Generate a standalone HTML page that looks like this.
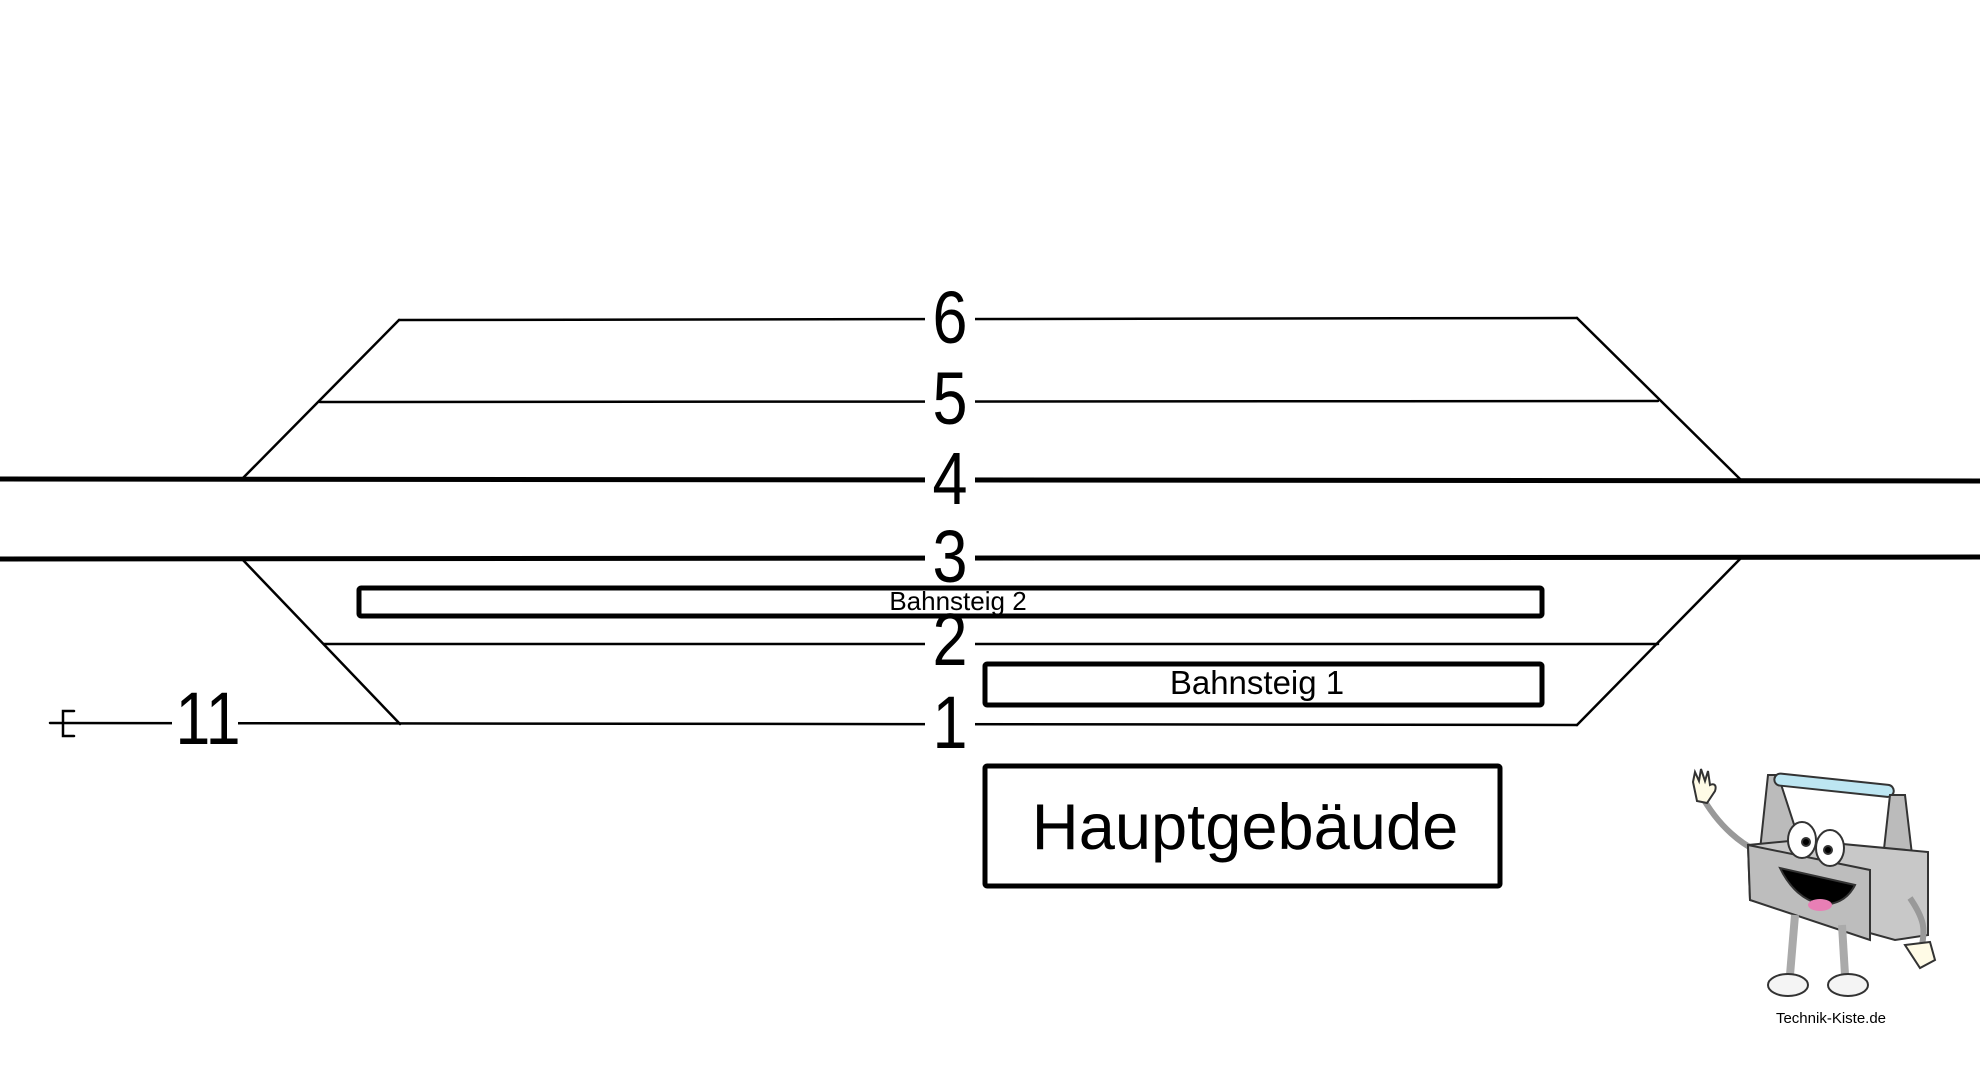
<!DOCTYPE html>
<html><head><meta charset="utf-8"><style>
html,body{margin:0;padding:0;background:#fff;}
svg{display:block;}
text{font-family:"Liberation Sans",sans-serif;}
</style></head><body>
<svg width="1980" height="1080" viewBox="0 0 1980 1080" xmlns="http://www.w3.org/2000/svg">
<rect width="1980" height="1080" fill="#fff"/>
<g stroke="#000" fill="none" stroke-linecap="round">
  <line x1="399" y1="320" x2="1577" y2="318" stroke-width="2.5"/>
  <line x1="320" y1="402" x2="1658" y2="401" stroke-width="2.5"/>
  <line x1="0" y1="479" x2="1980" y2="481" stroke-width="5"/>
  <line x1="0" y1="559" x2="1980" y2="557" stroke-width="5"/>
  <line x1="242" y1="479" x2="399" y2="320" stroke-width="2.5"/>
  <line x1="1577" y1="318" x2="1741" y2="480" stroke-width="2.5"/>
  <line x1="242" y1="559" x2="400" y2="724" stroke-width="2.5"/>
  <line x1="1741" y1="558" x2="1577" y2="725" stroke-width="2.5"/>
  <line x1="324" y1="644" x2="1658" y2="644" stroke-width="2.5"/>
  <line x1="50" y1="723" x2="1577" y2="725" stroke-width="2.5"/>
  <polyline points="74,711 63,711 63,736 74,736" stroke-width="2.5"/>
  <rect x="359" y="588" width="1183" height="28" stroke-width="5" rx="2"/>
  <rect x="985" y="664" width="557" height="41" stroke-width="5" rx="2"/>
  <rect x="985" y="766" width="515" height="120" stroke-width="5" rx="2"/>
</g>
<g fill="#fff">
  <rect x="925" y="285" width="50" height="70"/>
  <rect x="925" y="367" width="50" height="70"/>
  <rect x="925" y="447" width="50" height="70"/>
  <rect x="925" y="530" width="50" height="55"/>
  <rect x="925" y="622" width="50" height="40"/>
  <rect x="925" y="695" width="50" height="65"/>
  <rect x="172" y="690" width="66" height="60"/>
</g>
<g font-size="74" text-anchor="middle" fill="#000">
  <text transform="translate(950 343) scale(0.85 1)">6</text>
  <text transform="translate(950 424) scale(0.85 1)">5</text>
  <text transform="translate(950 504) scale(0.85 1)">4</text>
  <text transform="translate(950 582) scale(0.85 1)">3</text>
  <text transform="translate(950 665) scale(0.85 1)">2</text>
  <text transform="translate(950 748) scale(0.85 1)">1</text>
  <text transform="translate(208 744) scale(0.85 1)">11</text>
</g>
<text x="958" y="610" font-size="26" text-anchor="middle">Bahnsteig 2</text>
<text x="1257" y="694" font-size="33" text-anchor="middle">Bahnsteig 1</text>
<text x="1245" y="849" font-size="65" text-anchor="middle">Hauptgebäude</text>
<g stroke="#333" stroke-width="2">
  <path d="M1700,793 C1720,830 1745,845 1755,850" fill="none" stroke="#999" stroke-width="6"/>
  <path d="M1693,782 l2,-10 l4,9 l2,-12 l4,12 l3,-10 l2,14 c4,-2 7,0 5,6 l-8,12 l-10,-2 z" fill="#fffbe6"/>
  <path d="M1768,775 L1778,775 L1800,843 L1760,850 Z" fill="#bbb"/>
  <rect x="1775" y="773" width="120" height="12" rx="6" fill="#bde6f2" transform="rotate(6 1775 773)"/>
  <path d="M1890,795 L1905,795 L1915,880 L1880,885 Z" fill="#bbb"/>
  <polygon points="1748,845 1800,840 1928,852 1928,935 1895,940 1750,900" fill="#c8c8c8"/>
  <polygon points="1748,845 1870,870 1870,940 1750,900" fill="#bdbdbd"/>
  <line x1="1795" y1="915" x2="1790" y2="975" stroke="#aaa" stroke-width="8"/>
  <line x1="1842" y1="925" x2="1845" y2="975" stroke="#aaa" stroke-width="8"/>
  <ellipse cx="1788" cy="985" rx="20" ry="11" fill="#f4f4f4"/>
  <ellipse cx="1848" cy="985" rx="20" ry="11" fill="#f4f4f4"/>
  <path d="M1910,898 C1925,920 1925,930 1922,945" fill="none" stroke="#999" stroke-width="6"/>
  <path d="M1905,945 l25,-3 l5,18 l-15,8 z" fill="#fffbe6"/>
  <ellipse cx="1802" cy="840" rx="14" ry="18" fill="#fff"/>
  <ellipse cx="1830" cy="848" rx="14" ry="18" fill="#fff"/>
  <circle cx="1806" cy="842" r="4" fill="#000"/>
  <circle cx="1828" cy="850" r="4" fill="#000"/>
  <path d="M1780,868 C1800,910 1840,915 1855,885 Z" fill="#000"/>
  <ellipse cx="1820" cy="905" rx="12" ry="6" fill="#e87fb5" stroke="none"/>
</g>
<text x="1831" y="1023" font-size="15" text-anchor="middle" fill="#000">Technik-Kiste.de</text>
</svg>
</body></html>
